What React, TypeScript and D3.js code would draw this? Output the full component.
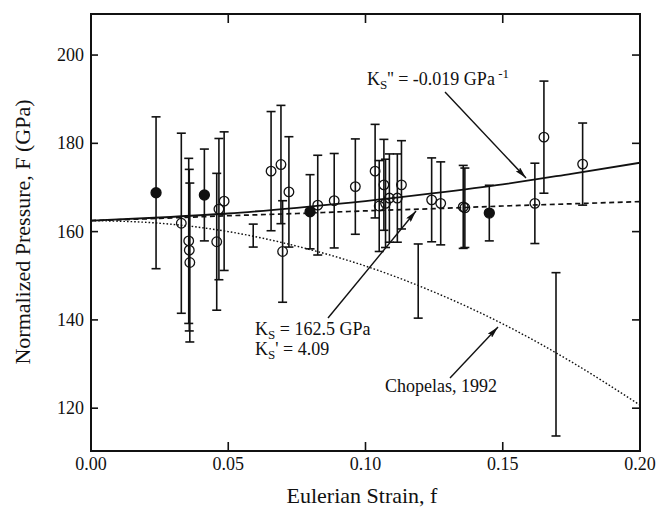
import React from 'react';
import * as d3 from 'd3';

// ---- data ----
const xTicks = [0, 0.05, 0.1, 0.15, 0.2];
const xTickLabels = ['0.00', '0.05', '0.10', '0.15', '0.20'];
const yTicks = [120, 140, 160, 180, 200];
const yTickLabels = ['120', '140', '160', '180', '200'];

// measured points: strain f, normalized pressure F (GPa), error (GPa), marker kind
const strain = [
  0.0237, 0.0329, 0.0356, 0.0358, 0.036, 0.0413, 0.0458, 0.0466, 0.0485, 0.0591,
  0.0656, 0.0692, 0.0698, 0.0721, 0.0798, 0.0826, 0.0886, 0.0963, 0.1035, 0.105,
  0.1067, 0.1073, 0.1087, 0.1116, 0.1131, 0.1192, 0.1241, 0.1274, 0.1356, 0.1362,
  0.1451, 0.1617, 0.165, 0.1694, 0.1791,
];
const pressure = [
  168.8, 161.9, 157.9, 155.8, 153.0, 168.3, 157.7, 165.1, 166.9, 159.1,
  173.7, 175.2, 155.5, 169.0, 164.5, 166.0, 167.0, 170.2, 173.7, 165.8,
  170.6, 166.4, 167.6, 167.6, 170.6, 148.8, 167.2, 166.4, 165.6, 165.4,
  164.2, 166.4, 181.4, 132.2, 175.3,
];
const errors = [
  17.2, 20.4, 18.7, 18.3, 18.0, 10.4, 15.5, 16.0, 15.7, 2.6,
  13.5, 13.4, 11.5, 12.5, 8.4, 11.3, 10.7, 10.8, 10.6, 10.3,
  10.3, 10.0, 10.0, 10.0, 10.0, 8.4, 9.5, 9.4, 9.4, 9.0,
  6.3, 9.1, 12.7, 18.5, 9.3,
];
const markers = [
  'filled', 'open', 'open', 'open', 'open', 'filled', 'open', 'open', 'open', 'none',
  'open', 'open', 'open', 'open', 'filled', 'open', 'open', 'open', 'open', 'open',
  'open', 'open', 'open', 'open', 'open', 'none', 'open', 'open', 'open', 'open',
  'filled', 'open', 'open', 'none', 'open',
];

// fitted curves read along the strain axis
const fitStrain = [0, 0.025, 0.05, 0.075, 0.1, 0.125, 0.15, 0.175, 0.2];
const fitThirdOrder = [162.5, 163.2, 164.1, 165.4, 166.9, 168.7, 170.7, 173.1, 175.6];
const fitImplied = [162.5, 163.0, 163.6, 164.1, 164.7, 165.2, 165.8, 166.3, 166.8];
const fitChopelas = [162.5, 161.9, 160.0, 156.7, 152.2, 146.3, 139.1, 130.5, 120.7];

const W = 660;
const H = 509;
const plot = { left: 91, right: 640, top: 14, bottom: 451 };
const serif = '"Liberation Serif", "DejaVu Serif", serif';

export default function App() {
  const x = d3.scaleLinear().domain([0, 0.2]).range([plot.left, plot.right]);
  const y = d3.scaleLinear().domain([110.3, 209.3]).range([plot.bottom, plot.top]);

  const line = d3
    .line<number>()
    .x((_, i) => x(fitStrain[i]))
    .y((d) => y(d))
    .curve(d3.curveMonotoneX);

  const cap = 4.5;
  const annSize = 18;
  const subSize = 13;

  return (
    <svg
      width={W}
      height={H}
      style={{ position: 'absolute', left: 0, top: 0, background: '#fff' }}
      fontFamily={serif}
    >
      <defs>
        <marker id="arr" viewBox="0 0 12 6" refX="12" refY="3" markerWidth="12" markerHeight="6" markerUnits="userSpaceOnUse" orient="auto">
          <path d="M0,0 L12,3 L0,6 L2,3 Z" fill="#111" />
        </marker>
        <clipPath id="clip">
          <rect x={plot.left} y={plot.top} width={plot.right - plot.left} height={plot.bottom - plot.top} />
        </clipPath>
      </defs>
      <rect x={0} y={0} width={W} height={H} fill="#fff" />

      {/* curves */}
      <g clipPath="url(#clip)" fill="none" stroke="#111">
        <path d={line(fitChopelas) || ''} strokeWidth={1.4} strokeDasharray="1.6,2" />
        <path d={line(fitImplied) || ''} strokeWidth={1.7} strokeDasharray="5,3.5" />
        <path d={line(fitThirdOrder) || ''} strokeWidth={1.8} />
      </g>

      {/* error bars and markers */}
      <g stroke="#111" strokeWidth={1.6}>
        {strain.map((f, i) => {
          const cx = x(f);
          const y1 = y(pressure[i] + errors[i]);
          const y2 = y(pressure[i] - errors[i]);
          return (
            <g key={i}>
              <line x1={cx} x2={cx} y1={y1} y2={y2} />
              <line x1={cx - cap} x2={cx + cap} y1={y1} y2={y1} />
              <line x1={cx - cap} x2={cx + cap} y1={y2} y2={y2} />
            </g>
          );
        })}
        {strain.map((f, i) =>
          markers[i] === 'none' ? null : (
            <circle
              key={'m' + i}
              cx={x(f)}
              cy={y(pressure[i])}
              r={markers[i] === 'filled' ? 5 : 4.8}
              fill={markers[i] === 'filled' ? '#111' : 'none'}
              stroke="#111"
              strokeWidth={1.3}
            />
          )
        )}
      </g>

      {/* frame and ticks */}
      <rect
        x={plot.left}
        y={plot.top}
        width={plot.right - plot.left}
        height={plot.bottom - plot.top}
        fill="none"
        stroke="#111"
        strokeWidth={2}
      />
      <g stroke="#111" strokeWidth={1.6}>
        {xTicks.slice(1, -1).map((t) => (
          <g key={'xt' + t}>
            <line x1={x(t)} x2={x(t)} y1={plot.bottom} y2={plot.bottom - 9} />
            <line x1={x(t)} x2={x(t)} y1={plot.top} y2={plot.top + 9} />
          </g>
        ))}
        {yTicks.map((t) => (
          <g key={'yt' + t}>
            <line x1={plot.left} x2={plot.left + 7} y1={y(t)} y2={y(t)} />
            <line x1={plot.right} x2={plot.right - 8} y1={y(t)} y2={y(t)} />
          </g>
        ))}
      </g>
      <g fontSize={18} fill="#111">
        {xTicks.map((t, i) => (
          <text key={'xl' + t} x={x(t)} y={470} textAnchor="middle">
            {xTickLabels[i]}
          </text>
        ))}
        {yTicks.map((t, i) => (
          <text key={'yl' + t} x={84} y={y(t) + 6} textAnchor="end">
            {yTickLabels[i]}
          </text>
        ))}
      </g>

      {/* axis titles */}
      <text x={362} y={503} textAnchor="middle" fontSize={22} fill="#111">
        Eulerian Strain, f
      </text>
      <text transform="translate(30,232) rotate(-90)" textAnchor="middle" fontSize={22} fill="#111">
        Normalized Pressure, F (GPa)
      </text>

      {/* annotations */}
      <g fontSize={annSize} fill="#111">
        <text x={367} y={85}>
          K<tspan fontSize={subSize} dy={4}>S</tspan>
          <tspan dy={-4}>'' = -0.019 GPa</tspan>
          <tspan fontSize={subSize} dy={-7}> -1</tspan>
        </text>
        <text x={255} y={335}>
          K<tspan fontSize={subSize} dy={4}>S</tspan>
          <tspan dy={-4}> = 162.5 GPa</tspan>
        </text>
        <text x={255} y={355}>
          K<tspan fontSize={subSize} dy={4}>S</tspan>
          <tspan dy={-4}>' = 4.09</tspan>
        </text>
        <text x={385} y={392}>Chopelas, 1992</text>
      </g>
      <g stroke="#111" strokeWidth={1.4}>
        <line x1={445} y1={92} x2={526} y2={178} markerEnd="url(#arr)" />
        <line x1={328} y1={318} x2={416} y2={211} markerEnd="url(#arr)" />
        <line x1={450} y1={378} x2={498} y2={327} markerEnd="url(#arr)" />
      </g>
    </svg>
  );
}
